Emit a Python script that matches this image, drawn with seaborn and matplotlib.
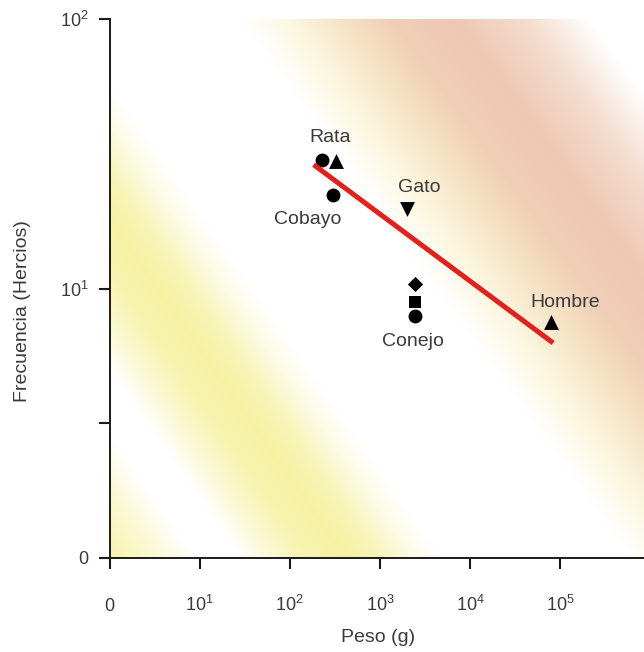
import numpy as np
import pandas as pd
import matplotlib
matplotlib.use("Agg")
import matplotlib.pyplot as plt
import seaborn as sns

# ---------------- data ----------------
peso_g = [230, 326, 299, 2020, 2450, 2450, 2450, 78900]
frecuencia_hz = [30.1, 29.7, 22.3, 19.8, 10.4, 8.93, 7.91, 7.49]
serie = ["A", "B", "A", "C", "D", "E", "A", "B"]

etiquetas = ["Rata", "Cobayo", "Gato", "Conejo", "Hombre"]
etiqueta_punto = [0, 2, 3, 6, 7]

recta_peso = [184, 83600]
recta_frecuencia = [28.8, 6.28]

x_ticks = [1, 10, 100, 1000, 10000, 100000]
x_tick_labels = ["0", r"$\mathregular{10^1}$", r"$\mathregular{10^2}$",
                 r"$\mathregular{10^3}$", r"$\mathregular{10^4}$", r"$\mathregular{10^5}$"]
y_ticks = [1, 10 ** 0.5, 10, 100]
y_tick_labels = ["0", "", r"$\mathregular{10^1}$", r"$\mathregular{10^2}$"]

# ---------------- style ----------------
sns.set_style("ticks")
plt.rcParams["font.family"] = ["Liberation Sans", "DejaVu Sans"]
plt.rcParams["mathtext.fontset"] = "custom"
plt.rcParams["mathtext.rm"] = "Liberation Sans"
plt.rcParams["mathtext.it"] = "Liberation Sans:italic"
plt.rcParams["mathtext.bf"] = "Liberation Sans:bold"

df = pd.DataFrame({"peso": peso_g, "frecuencia": frecuencia_hz, "serie": serie})
marcadores = {"A": "o", "B": "^", "C": "v", "D": "D", "E": "s"}
tamanos = {"A": 100, "B": 115, "C": 115, "D": 60, "E": 70}

fig = plt.figure(figsize=(6.44, 6.52), dpi=100)
pos = [109.5 / 644, (652 - 558) / 652, (644 - 109.5) / 644, (558 - 19) / 652]

# ---------------- decorative background bands ----------------
bg = fig.add_axes(pos, zorder=0)
W, H = 535, 539
jj, ii = np.meshgrid(np.arange(W) + 0.5, np.arange(H) + 0.5)
px = 109.5 + jj
py = 19 + ii


def band(coord, stops):
    sv = np.array([p[0] for p in stops], dtype=float)
    cv = np.array([p[1] for p in stops], dtype=float) / 255.0
    return np.stack([np.interp(coord, sv, cv[:, k]) for k in range(3)], axis=-1)


amarillo = band(px - 0.7 * py, [
    (-420, (246, 242, 170)),
    (-280, (247, 243, 175)),
    (-225, (252, 250, 218)),
    (-195, (255, 255, 255)),
    (-150, (255, 255, 255)),
    (-120, (251, 249, 215)),
    (-85, (248, 244, 178)),
    (-45, (246, 241, 162)),
    (-10, (248, 245, 185)),
    (22, (252, 251, 228)),
    (50, (255, 255, 255)),
    (900, (255, 255, 255)),
])
rosa = band(px - 0.726 * py, [
    (-500, (255, 255, 255)),
    (225, (255, 255, 255)),
    (275, (252, 247, 224)),
    (325, (246, 228, 198)),
    (375, (240, 207, 183)),
    (440, (238, 200, 179)),
    (510, (244, 220, 206)),
    (575, (255, 255, 255)),
    (900, (255, 255, 255)),
])
img = amarillo * rosa
bg.imshow(img, aspect="auto", extent=(0, 1, 0, 1), interpolation="bilinear")
bg.axis("off")

# ---------------- main axes ----------------
ax = fig.add_axes(pos, zorder=1)
ax.patch.set_alpha(0)
ax.set_xscale("log")
ax.set_yscale("log")

for g, sub in df.groupby("serie"):
    sns.scatterplot(data=sub, x="peso", y="frecuencia", marker=marcadores[g],
                    s=tamanos[g], color="black", linewidth=0, ax=ax,
                    zorder=3, legend=False)

sns.lineplot(x=recta_peso, y=recta_frecuencia, color="#e3201b", linewidth=3.6,
             ax=ax, zorder=4, solid_capstyle="butt")

offsets = [(5.8, 15.6), (-17.7, -17.6), (8.2, 14.9), (-1.2, -18.7), (10.3, 14.3)]
for lab, idx, off in zip(etiquetas, etiqueta_punto, offsets):
    ax.annotate(lab, (peso_g[idx], frecuencia_hz[idx]), xytext=off,
                textcoords="offset points", ha="center", va="center",
                fontsize=14, color="#3a3a3a", zorder=5)

ax.set_xlim(1, 10 ** 5.93)
ax.set_ylim(1, 100)
ax.minorticks_off()
ax.set_xticks(x_ticks)
ax.set_xticklabels(x_tick_labels)
ax.set_yticks(y_ticks)
ax.set_yticklabels(y_tick_labels)

for side in ["top", "right"]:
    ax.spines[side].set_visible(False)
for side in ["left", "bottom"]:
    ax.spines[side].set_linewidth(1.4)
    ax.spines[side].set_color("#1a1a1a")

ax.tick_params(axis="x", length=8, width=1.5, color="#1a1a1a", pad=30,
               labelsize=13, labelcolor="#3a3a3a", direction="out")
ax.tick_params(axis="y", length=8, width=1.5, color="#1a1a1a", pad=7,
               labelsize=13, labelcolor="#3a3a3a", direction="out")
for t in ax.get_xticklabels():
    t.set_va("baseline")

ax.set_xlabel("Peso (g)", fontsize=14, color="#3a3a3a")
ax.set_ylabel("Frecuencia (Hercios)", fontsize=14, color="#3a3a3a")
ax.xaxis.set_label_coords(0.502, -0.1466)
ax.xaxis.label.set_va("center")
ax.yaxis.set_label_coords(-0.1626, 0.458)
ax.yaxis.label.set_va("center")

fig.savefig("out.png", dpi=100)
